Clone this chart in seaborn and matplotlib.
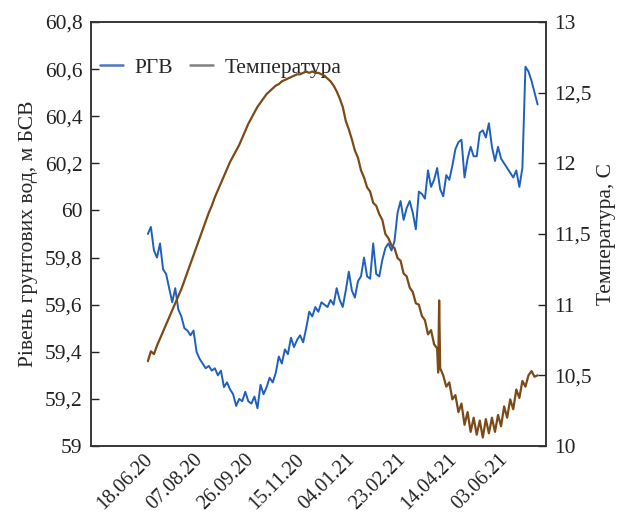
import matplotlib
matplotlib.use("Agg")
import matplotlib.pyplot as plt
import matplotlib.dates as mdates
from matplotlib.lines import Line2D
import seaborn as sns
import pandas as pd

# days counted from 18.06.2020
start = pd.Timestamp("2020-06-18")

rgv_days = [5, 8, 11, 14, 17, 20, 23, 26, 29, 32, 35, 38, 41, 44, 47, 50, 53, 56, 59, 62,
            65, 68, 71, 74, 77, 80, 83, 86, 89, 92, 95, 98, 101, 104, 107, 110, 113, 116, 119, 122,
            125, 128, 131, 134, 137, 140, 143, 146, 149, 152, 155, 158, 161, 164, 167, 170, 173, 176, 179, 182,
            185, 188, 191, 194, 197, 200, 203, 206, 209, 212, 215, 218, 221, 224, 227, 230, 233, 236, 239, 242,
            245, 248, 251, 254, 257, 260, 263, 266, 269, 272, 275, 278, 281, 284, 287, 290, 293, 296, 299, 302,
            305, 308, 311, 314, 317, 320, 323, 326, 329, 332, 335, 338, 341, 344, 347, 350, 353, 356, 359, 362,
            365, 368, 371, 374, 377, 380, 383, 386, 389]
rgv = [59.90, 59.93, 59.83, 59.80, 59.86, 59.75, 59.73, 59.67, 59.61, 59.67, 59.58, 59.55, 59.50, 59.49, 59.47, 59.49, 59.40, 59.37, 59.35, 59.33,
       59.34, 59.32, 59.33, 59.30, 59.32, 59.25, 59.27, 59.24, 59.22, 59.17, 59.20, 59.19, 59.23, 59.19, 59.18, 59.21, 59.16, 59.26, 59.22, 59.25,
       59.29, 59.27, 59.31, 59.38, 59.35, 59.41, 59.39, 59.46, 59.42, 59.45, 59.47, 59.44, 59.50, 59.57, 59.55, 59.59, 59.57, 59.61, 59.60, 59.59,
       59.62, 59.60, 59.67, 59.62, 59.59, 59.66, 59.74, 59.66, 59.63, 59.70, 59.72, 59.80, 59.72, 59.71, 59.86, 59.73, 59.72, 59.79, 59.84, 59.86,
       59.83, 59.87, 59.99, 60.04, 59.96, 60.01, 60.04, 59.99, 59.92, 60.08, 60.07, 60.05, 60.17, 60.10, 60.13, 60.18, 60.09, 60.06, 60.15, 60.13,
       60.19, 60.26, 60.29, 60.30, 60.14, 60.22, 60.27, 60.23, 60.23, 60.33, 60.34, 60.31, 60.37, 60.27, 60.21, 60.27, 60.22, 60.20, 60.18, 60.16,
       60.14, 60.17, 60.10, 60.18, 60.61, 60.59, 60.55, 60.50, 60.45]

temp_days = [5, 8, 11, 14, 17, 20, 23, 26, 29, 32, 35, 38, 41, 44, 47, 50, 53, 56, 59, 62,
             65, 68, 71, 74, 77, 80, 83, 86, 89, 92, 95, 98, 101, 104, 107, 110, 113, 116, 119, 122,
             125, 128, 131, 134, 137, 140, 143, 146, 149, 152, 155, 158, 161, 164, 167, 170, 173, 176, 179, 182,
             185, 188, 191, 194, 197, 200, 203, 206, 209, 212, 215, 218, 221, 224, 227, 230, 233, 236, 239, 242,
             245, 248, 251, 254, 257, 260, 263, 266, 269, 272, 275, 278, 281, 284, 287, 290, 291, 292, 293, 296,
             299, 302, 305, 308, 311, 314, 317, 320, 323, 326, 329, 332, 335, 338, 341, 344, 347, 350, 353, 356,
             359, 362, 365, 368, 371, 374, 377, 380, 383, 386, 389]
temp = [10.60, 10.67, 10.65, 10.71, 10.76, 10.81, 10.86, 10.91, 10.96, 11.01, 11.06, 11.11, 11.17, 11.23, 11.29, 11.35, 11.41, 11.47, 11.53, 11.59,
        11.65, 11.70, 11.76, 11.81, 11.86, 11.91, 11.96, 12.01, 12.05, 12.09, 12.13, 12.18, 12.23, 12.28, 12.32, 12.36, 12.40, 12.43, 12.46, 12.49,
        12.51, 12.53, 12.55, 12.56, 12.58, 12.59, 12.60, 12.61, 12.62, 12.63, 12.63, 12.64, 12.65, 12.64, 12.65, 12.64, 12.64, 12.63, 12.62, 12.60,
        12.58, 12.55, 12.51, 12.46, 12.40, 12.30, 12.24, 12.17, 12.09, 12.04, 11.95, 11.90, 11.83, 11.80, 11.72, 11.70, 11.64, 11.60, 11.50, 11.47,
        11.42, 11.40, 11.33, 11.31, 11.22, 11.20, 11.12, 11.09, 11.01, 11.00, 10.92, 10.89, 10.79, 10.82, 10.72, 10.69, 10.52, 11.03, 10.55, 10.50,
        10.42, 10.45, 10.33, 10.36, 10.24, 10.30, 10.15, 10.24, 10.10, 10.20, 10.08, 10.18, 10.06, 10.19, 10.09, 10.20, 10.10, 10.22, 10.14, 10.28,
        10.20, 10.33, 10.26, 10.40, 10.34, 10.46, 10.42, 10.50, 10.53, 10.49, 10.50]

tick_dates = ["2020-06-18", "2020-08-07", "2020-09-26", "2020-11-15",
              "2021-01-04", "2021-02-23", "2021-04-14", "2021-06-03"]
left_ticks = [59, 59.2, 59.4, 59.6, 59.8, 60, 60.2, 60.4, 60.6, 60.8]
right_ticks = [10, 10.5, 11, 11.5, 12, 12.5, 13]

df_rgv = pd.DataFrame({"date": start + pd.to_timedelta(rgv_days, unit="D"), "rgv": rgv})
df_temp = pd.DataFrame({"date": start + pd.to_timedelta(temp_days, unit="D"), "temp": temp})

sns.set_style("white")
plt.rcParams["font.family"] = ["Liberation Serif", "DejaVu Serif"]

blue = "#1f5fbd"
brown = "#7b4a16"

fig = plt.figure(figsize=(6.17, 5.2), dpi=100)
ax = fig.add_axes([0.1475, 0.1423, 0.737, 0.8154])
ax2 = ax.twinx()

sns.lineplot(data=df_rgv, x="date", y="rgv", ax=ax, color=blue, lw=1.4)
sns.lineplot(data=df_temp, x="date", y="temp", ax=ax2, color=brown, lw=1.6)

ax.set_xlim(pd.Timestamp("2020-04-28"), pd.Timestamp("2021-07-20"))
ax.set_ylim(59, 60.8)
ax2.set_ylim(10, 13)

ax.set_xticks(pd.to_datetime(tick_dates))
ax.xaxis.set_major_formatter(mdates.DateFormatter("%d.%m.%y"))
for lab in ax.get_xticklabels():
    lab.set_rotation(45)
    lab.set_ha("right")
    lab.set_rotation_mode("anchor")

ax.set_yticks(left_ticks)
ax.set_yticklabels([f"{v:g}".replace(".", ",") for v in left_ticks])
ax2.set_yticks(right_ticks)
ax2.set_yticklabels([f"{v:g}".replace(".", ",") for v in right_ticks])

fs = 15.5
ax.tick_params(axis="both", direction="in", length=6, width=1, labelsize=fs, colors="#222222", pad=6)
ax2.tick_params(axis="y", direction="in", length=6, width=1, labelsize=fs, colors="#222222", pad=6)
ax.tick_params(axis="x", pad=3, labelsize=14.5)

ax.set_xlabel("")
ax.set_ylabel("Рівень грунтових вод, м БСВ", fontsize=fs, labelpad=5)
ax2.set_ylabel("Температура, С", fontsize=fs, labelpad=4)

for a in (ax, ax2):
    for s in a.spines.values():
        s.set_color("#333333")
        s.set_linewidth(1.1)

handles = [Line2D([], [], color="#4a76c4", lw=1.8),
           Line2D([], [], color="#808080", lw=1.8)]
ax.legend(handles, ["РГВ", "Температура"], loc="center left", bbox_to_anchor=(0.0, 0.892),
          borderaxespad=0, ncol=2, frameon=False, fontsize=fs, handlelength=1.1,
          handletextpad=0.5, columnspacing=0.8)

fig.savefig("out.png", dpi=100)
